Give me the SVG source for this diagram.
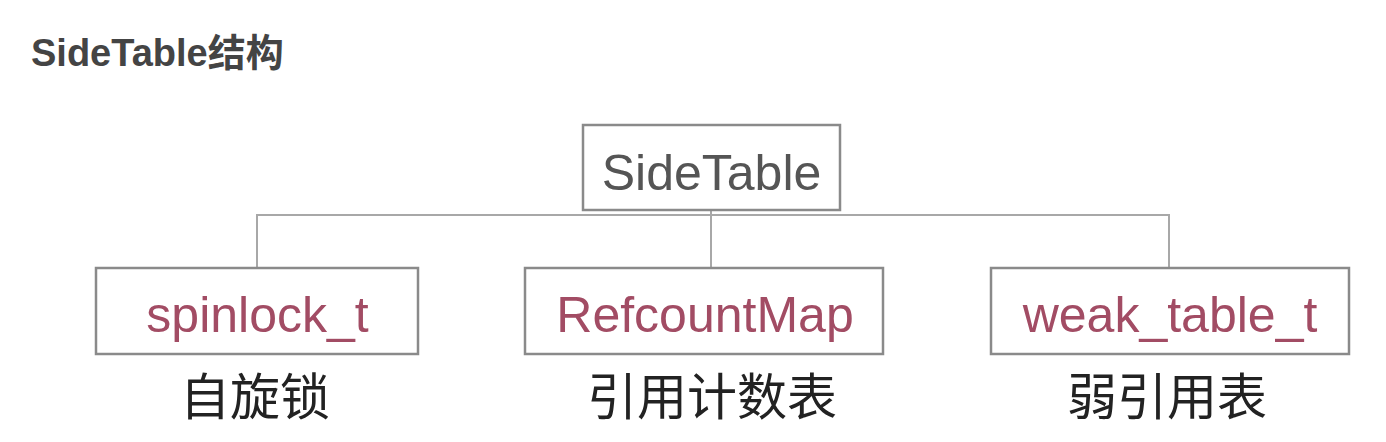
<svg xmlns="http://www.w3.org/2000/svg" width="1386" height="442" viewBox="0 0 1386 442">
<style>
.box{fill:#fff;stroke:#8a8a8a;stroke-width:2.5}
.conn{fill:none;stroke:#a8a8a8;stroke-width:2}
.lbl{font-family:"Liberation Sans",Arial,sans-serif;font-size:50px;fill:#a24c64;text-anchor:middle}
.cn{font-family:"Noto Sans CJK SC",sans-serif;font-size:50px;fill:#222;text-anchor:middle}
</style>
<rect width="1386" height="442" fill="#fff"/>
<text x="31" y="66" font-family="'Liberation Sans','Noto Sans CJK SC',sans-serif" font-weight="bold" font-size="38" fill="#444">SideTable结构</text>
<g id="connectors">
<polyline class="conn" points="257,268 257,215 1169,215 1169,268"/>
<line class="conn" x1="711" y1="210" x2="711" y2="268"/>
</g>
<g id="sidetable">
<rect class="box" x="583" y="125" width="257" height="85"/>
<text x="711.5" y="190" font-family="'Liberation Sans',Arial,sans-serif" font-size="50" fill="#555" text-anchor="middle">SideTable</text>
</g>
<g id="spinlock">
<rect class="box" x="96" y="268" width="322" height="86"/>
<text class="lbl" x="257.5" y="332">spinlock_t</text>
<text class="cn" x="255" y="415">自旋锁</text>
</g>
<g id="refcount">
<rect class="box" x="525" y="268" width="358" height="86"/>
<text class="lbl" x="705" y="332">RefcountMap</text>
<text class="cn" x="712" y="415">引用计数表</text>
</g>
<g id="weak">
<rect class="box" x="991" y="268" width="358" height="86"/>
<text class="lbl" x="1170" y="332">weak_table_t</text>
<text class="cn" x="1167" y="415">弱引用表</text>
</g>
</svg>
